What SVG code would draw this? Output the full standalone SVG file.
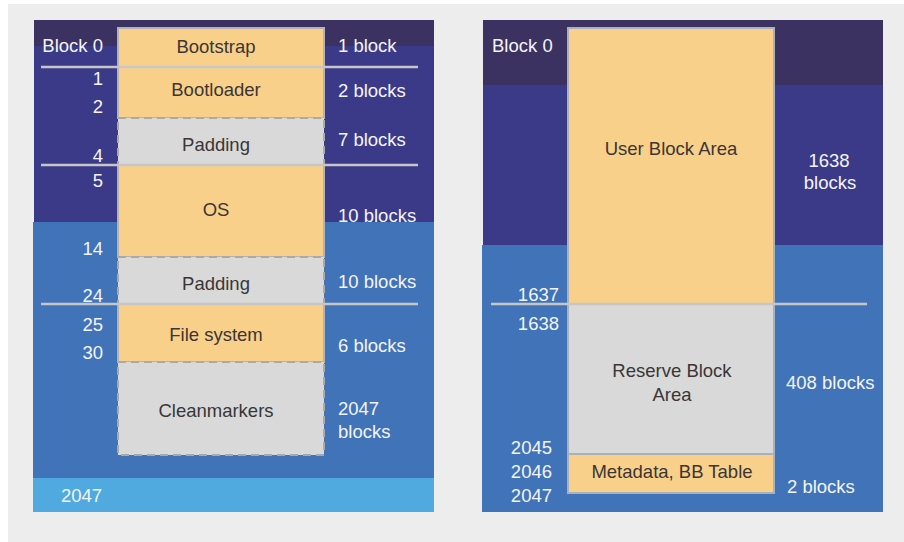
<svg xmlns="http://www.w3.org/2000/svg" width="904" height="542" viewBox="0 0 904 542">
<style>
text{font-family:"Liberation Sans",Arial,sans-serif;font-size:18.5px}
.w{fill:#f4f4f6}
.d{fill:#3a3636}
.m{text-anchor:middle}
.e{text-anchor:end}
.or{fill:#f9d08a;stroke:#b3b3b3;stroke-width:2}
.gr{fill:#d9d9d9;stroke:#a9a9a9;stroke-width:2;stroke-dasharray:8 5}
.ro{fill:#f9d08a;stroke:#aab0bc;stroke-width:2}
.rg{fill:#d9d9d9;stroke:#aab0bc;stroke-width:2}
.sep{stroke:#c6c6c6;stroke-width:2.5}
</style>
<rect x="8" y="4" width="896" height="538" fill="#ededed"/>
<g id="left-panel">
<rect x="34" y="20" width="400" height="26" fill="#3b3262"/>
<rect x="34" y="46" width="400" height="176" fill="#3b3a88"/>
<rect x="33" y="222" width="401" height="256" fill="#4173b8"/>
<rect x="33" y="478" width="401" height="34" fill="#50aadf"/>
</g>
<g id="right-panel">
<rect x="483" y="20" width="400" height="65" fill="#3b3262"/>
<rect x="483" y="85" width="400" height="160" fill="#3b3a88"/>
<rect x="482" y="245" width="401" height="267" fill="#4173b8"/>
</g>
<g id="bootstrap"><rect class="or" x="118" y="28" width="206" height="39"/><text class="d m" x="216" y="53">Bootstrap</text></g>
<g id="bootloader"><rect class="or" x="118" y="67" width="206" height="51"/><text class="d m" x="216" y="96">Bootloader</text></g>
<g id="padding1"><rect class="gr" x="118" y="118" width="206" height="47"/><text class="d m" x="216" y="151">Padding</text></g>
<g id="os"><rect class="or" x="118" y="165" width="206" height="92"/><text class="d m" x="216" y="216">OS</text></g>
<g id="padding2"><rect class="gr" x="118" y="257" width="206" height="47"/><text class="d m" x="216" y="290">Padding</text></g>
<g id="filesystem"><rect class="or" x="118" y="304" width="206" height="58"/><text class="d m" x="216" y="341">File system</text></g>
<g id="cleanmarkers"><rect class="gr" x="118" y="362" width="206" height="93"/><text class="d m" x="216" y="417">Cleanmarkers</text></g>
<g id="user-block-area"><rect class="ro" x="568" y="28" width="206" height="276"/><text class="d m" x="671" y="155">User Block Area</text></g>
<g id="reserve-block-area"><rect class="rg" x="568" y="304" width="206" height="150"/><text class="d m" x="672" y="377">Reserve Block</text><text class="d m" x="672" y="401">Area</text></g>
<g id="metadata"><rect class="ro" x="568" y="454" width="206" height="39"/><text class="d m" x="672" y="478">Metadata, BB Table</text></g>
<g id="connectors">
<line class="sep" x1="41" y1="67" x2="418" y2="67"/>
<line class="sep" x1="41" y1="165" x2="418" y2="165"/>
<line class="sep" x1="41" y1="304" x2="418" y2="304"/>
<line class="sep" x1="491" y1="304" x2="867" y2="304"/>
</g>
<g id="left-labels">
<text class="w e" x="103" y="52">Block 0</text>
<text class="w e" x="103" y="85">1</text>
<text class="w e" x="103" y="113">2</text>
<text class="w e" x="103" y="162">4</text>
<text class="w e" x="103" y="187">5</text>
<text class="w e" x="103" y="255">14</text>
<text class="w e" x="103" y="302">24</text>
<text class="w e" x="103" y="331">25</text>
<text class="w e" x="103" y="359">30</text>
<text class="w" x="61" y="502">2047</text>
<text class="w" x="338" y="52">1 block</text>
<text class="w" x="338" y="97">2 blocks</text>
<text class="w" x="338" y="146">7 blocks</text>
<text class="w" x="338" y="222">10 blocks</text>
<text class="w" x="338" y="288">10 blocks</text>
<text class="w" x="338" y="352">6 blocks</text>
<text class="w" x="338" y="415">2047</text>
<text class="w" x="338" y="438">blocks</text>
</g>
<g id="right-labels">
<text class="w" x="492" y="52">Block 0</text>
<text class="w m" x="829" y="167">1638</text>
<text class="w m" x="830" y="189">blocks</text>
<text class="w e" x="559" y="301">1637</text>
<text class="w e" x="559" y="330">1638</text>
<text class="w" x="786" y="389">408 blocks</text>
<text class="w e" x="552" y="454">2045</text>
<text class="w e" x="552" y="478">2046</text>
<text class="w e" x="552" y="502">2047</text>
<text class="w" x="787" y="493">2 blocks</text>
</g>
</svg>
